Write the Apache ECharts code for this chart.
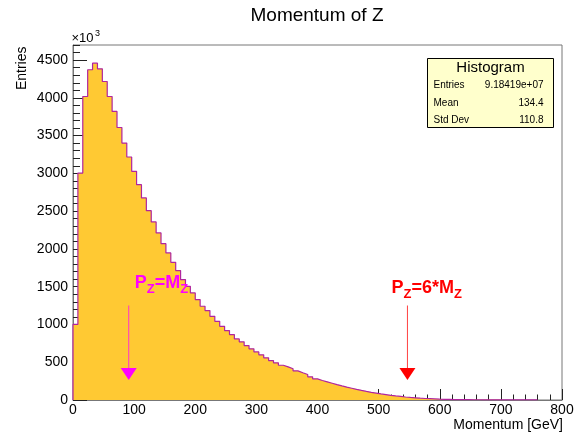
<!DOCTYPE html>
<html>
<head>
<meta charset="utf-8">
<script src="https://cdn.jsdelivr.net/npm/echarts@6/dist/echarts.min.js"></script>
<style>
  html, body { margin: 0; padding: 0; background: #ffffff; }
  #chart { width: 576px; height: 437px; }
</style>
</head>
<body>
<div id="chart"></div>
<script>
// Z boson momentum spectrum: 8 GeV bins starting at 0, contents in units of 10^3 entries
const binWidth = 8;
const binLow = 0;
const entriesK = [
  1000, 3005, 4018, 4372, 4460, 4385, 4217, 4018, 3820, 3608,
  3402, 3217, 3027, 2851, 2675, 2507, 2357, 2212, 2070, 1947,
  1823, 1713, 1594, 1505, 1418, 1329, 1241, 1184, 1108, 1042,
  976, 919, 866, 809, 770, 721, 677, 637, 598, 558,
  522, 492, 460, 439, 413, 386, 360, 337, 307, 280,
  258, 240, 222, 204, 187, 171, 156, 141, 127, 114,
  102, 91, 80, 71, 62, 54, 47, 40, 34, 29,
  24, 20, 17, 14, 11, 9, 8, 6, 5, 4,
  4, 3, 3, 2, 2, 2, 2, 1.5, 1.5, 1,
  1, 1, 1, 1, 1
];

// axis ranges
const xRange = [0, 800];
const xMajor = 100;
const yRange = [0, 4700];
const yMajor = 500;
const yMinor = 100;

// statistics box
const statsTitle = 'Histogram';
const statsRows = [
  ['Entries', '9.18419e+07'],
  ['Mean', '134.4'],
  ['Std Dev', '110.8']
];

// reference markers: Z mass and six times the Z mass
const zMass = 91.19;
const markerX = [zMass, 6 * zMass];
const markerText = ['{b|P}{s|Z}{b|=M}{s|Z}', '{b|P}{s|Z}{b|=6*M}{s|Z}'];

// look of each marker (colour, label offset from the arrow in px)
const markerStyle = [
  { color: '#ff00ff', dx: 6, dy: -126 },
  { color: '#ff0000', dx: -16, dy: -121 }
];

const FONT = '"Liberation Sans", Arial, Helvetica, sans-serif';

// outline of the histogram as a step curve through the bin edges
const histPoints = [[binLow, 0]];
entriesK.forEach(function (v, i) {
  histPoints.push([binLow + i * binWidth, v]);
});
histPoints.push([binLow + entriesK.length * binWidth, 0]);

const chart = echarts.init(document.getElementById('chart'), null, { renderer: 'canvas' });

const tickColor = '#222222';
const frameColor = '#777777';

function renderMarker(params, api) {
  const i = params.dataIndex;
  const st = markerStyle[i];
  const base = api.coord([api.value(0), 0]);
  const px = base[0];
  const y0 = base[1];
  const tipY = y0 - 20;
  const headTop = tipY - 12;
  const lineTop = y0 - 94.5;
  return {
    type: 'group',
    children: [
      {
        type: 'line',
        shape: { x1: px, y1: lineTop, x2: px, y2: headTop },
        style: { stroke: st.color, lineWidth: 1, opacity: 0.75 }
      },
      {
        type: 'polygon',
        shape: { points: [[px - 8, headTop], [px + 8, headTop], [px, tipY]] },
        style: { fill: st.color }
      },
      {
        type: 'text',
        x: px + st.dx,
        y: y0 + st.dy,
        style: {
          text: markerText[i],
          fill: st.color,
          align: 'left',
          verticalAlign: 'top',
          rich: {
            b: { fontSize: 18, fontWeight: 'bold', fontFamily: FONT, lineHeight: 18, verticalAlign: 'top', fill: st.color },
            s: { fontSize: 13, fontWeight: 'bold', fontFamily: FONT, lineHeight: 13, verticalAlign: 'top', padding: [9, 0, 0, 0], fill: st.color }
          }
        }
      }
    ]
  };
}

// statistics box drawn in the top right corner of the frame
const statsBox = { x: 427.5, y: 58.5, w: 126, h: 69 };
const statsChildren = [
  {
    type: 'rect',
    shape: { x: statsBox.x, y: statsBox.y, width: statsBox.w, height: statsBox.h },
    style: { fill: '#ffffcc', stroke: '#000000', lineWidth: 1 }
  },
  {
    type: 'text',
    x: statsBox.x + statsBox.w / 2,
    y: statsBox.y + 9.5,
    style: { text: statsTitle, align: 'center', verticalAlign: 'middle', font: '15px ' + FONT, fill: '#000' }
  }
];
statsRows.forEach(function (row, k) {
  const yy = statsBox.y + 27 + k * 17.5;
  statsChildren.push({
    type: 'text', x: statsBox.x + 6, y: yy,
    style: { text: row[0], align: 'left', verticalAlign: 'middle', font: '10px ' + FONT, fill: '#000' }
  });
  statsChildren.push({
    type: 'text', x: statsBox.x + statsBox.w - 10, y: yy,
    style: { text: row[1], align: 'right', verticalAlign: 'middle', font: '10px ' + FONT, fill: '#000' }
  });
});

const plainNumber = function (v) { return String(v); };

const option = {
  animation: false,
  backgroundColor: '#ffffff',
  grid: {
    left: 73, right: 14, top: 45, bottom: 37,
    show: true, borderColor: frameColor, borderWidth: 1,
    backgroundColor: 'transparent',
    containLabel: false,
    outerBoundsMode: 'none'
  },
  xAxis: {
    type: 'value',
    min: xRange[0], max: xRange[1], interval: xMajor,
    axisLine: { show: true, onZero: false, lineStyle: { color: frameColor, width: 1 } },
    axisTick: { show: true, inside: true, length: 11, lineStyle: { color: tickColor } },
    minorTick: { show: true, splitNumber: 5, length: 5.5, lineStyle: { color: tickColor } },
    axisLabel: { fontSize: 14, color: '#000', margin: 3, fontFamily: FONT, formatter: plainNumber },
    splitLine: { show: false },
    minorSplitLine: { show: false }
  },
  yAxis: [
    {
      type: 'value',
      position: 'left',
      min: yRange[0], max: yRange[1], interval: yMajor,
      axisLine: { show: true, onZero: false, lineStyle: { color: frameColor, width: 1 } },
      axisTick: { show: true, inside: true, length: 14, lineStyle: { color: tickColor } },
      axisLabel: { fontSize: 14, color: '#000', margin: 5, fontFamily: FONT, showMaxLabel: false, formatter: plainNumber },
      splitLine: { show: false }
    },
    {
      type: 'value',
      position: 'left',
      min: yRange[0], max: yRange[1], interval: yMinor,
      axisLine: { show: false },
      axisTick: { show: true, inside: true, length: 7, lineStyle: { color: tickColor } },
      axisLabel: { show: false },
      splitLine: { show: false }
    }
  ],
  series: [
    {
      type: 'line',
      step: 'end',
      data: histPoints,
      xAxisIndex: 0,
      yAxisIndex: 0,
      symbol: 'none',
      showSymbol: false,
      lineStyle: { color: '#b0259e', width: 1.2 },
      areaStyle: { color: '#ffc933', opacity: 1 },
      silent: true,
      z: 2
    },
    {
      type: 'custom',
      xAxisIndex: 0,
      yAxisIndex: 0,
      data: markerX.map(function (v) { return [v, 0]; }),
      encode: { x: 0, y: 1 },
      renderItem: renderMarker,
      silent: true,
      z: 5
    }
  ],
  graphic: [
    {
      type: 'text', x: 317, y: 16,
      style: { text: 'Momentum of Z', align: 'center', verticalAlign: 'middle', font: '19px ' + FONT, fill: '#000' }
    },
    {
      type: 'text', x: 563, y: 425,
      style: { text: 'Momentum [GeV]', align: 'right', verticalAlign: 'middle', font: '14px ' + FONT, fill: '#000' }
    },
    {
      type: 'text', x: 22.5, y: 46.5, rotation: Math.PI / 2,
      style: { text: 'Entries', align: 'right', verticalAlign: 'middle', font: '14px ' + FONT, fill: '#000' }
    },
    {
      type: 'text', x: 71.5, y: 45,
      style: { text: '\u00d710', align: 'left', verticalAlign: 'bottom', font: '13px ' + FONT, fill: '#000' }
    },
    {
      type: 'text', x: 95, y: 29.5,
      style: { text: '3', align: 'left', verticalAlign: 'top', font: '9px ' + FONT, fill: '#000' }
    },
    {
      type: 'group',
      children: statsChildren
    }
  ]
};

chart.setOption(option);
</script>
</body>
</html>
